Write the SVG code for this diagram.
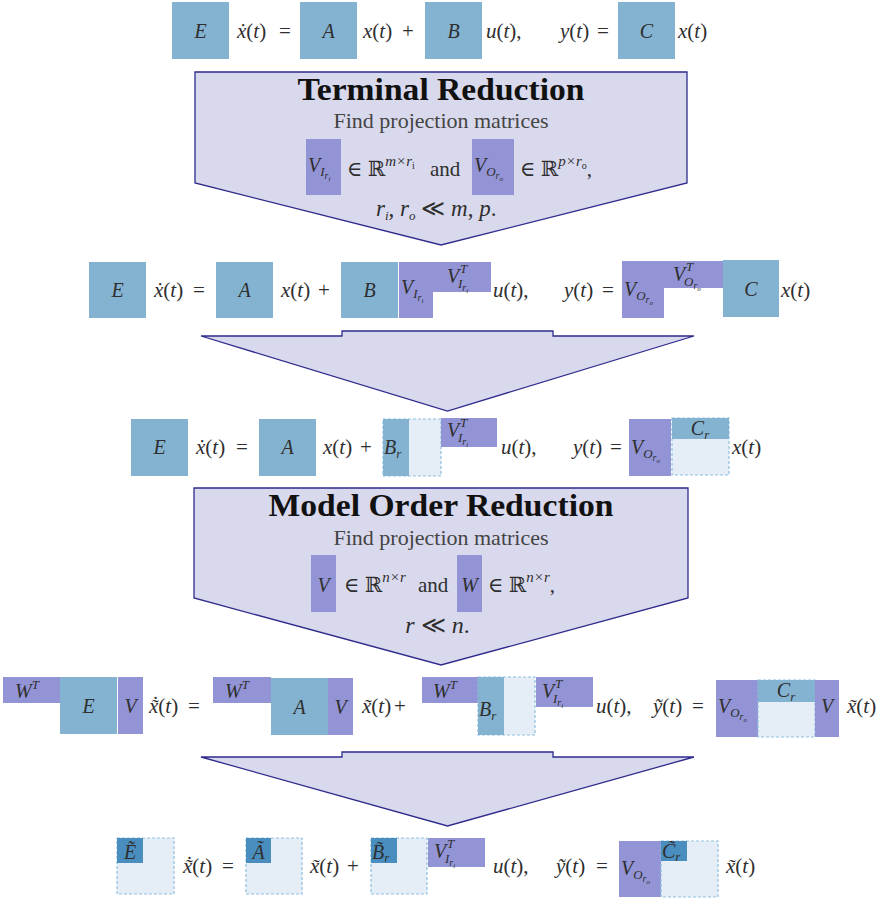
<svg xmlns="http://www.w3.org/2000/svg" width="887" height="899" viewBox="0 0 887 899">
<defs>
<style>
.f{font-family:"Liberation Serif","DejaVu Serif",serif;fill:#2e2e2e}
.eq{font-size:21px}
.lb{font-size:20px;font-style:italic}
.it{font-style:italic}
.up{font-style:normal}
.sub{font-size:13px;font-style:italic}
.sup{font-size:15px;font-style:italic}
.ss{font-size:10px}
.sss{font-size:7px}
.mid{text-anchor:middle}
.title{font-size:31px;font-weight:bold;fill:#111}
.find{font-size:22px;fill:#444}
.blue{fill:#84b3d2}
.pur{fill:#9394d5}
.dash{fill:#e5eef6;stroke:#8fc0e0;stroke-width:1.2;stroke-dasharray:3 2}
.dark{fill:#4a8ebf}
.blk{fill:#d9d9ed;stroke:#2e2b8c;stroke-width:1.3;stroke-linejoin:miter}
</style>
</defs>
<rect width="887" height="899" fill="#ffffff"/>

<!-- Row 1: original system -->
<g id="eq-original">
<rect class="blue" x="172" y="2" width="57" height="57"/>
<text class="f lb mid" x="200.5" y="38">E</text>
<text class="f eq" x="237" y="38"><tspan class="it">ẋ</tspan>(<tspan class="it">t</tspan>)</text>
<text class="f eq" x="279" y="38">=</text>
<rect class="blue" x="300" y="2" width="57" height="57"/>
<text class="f lb mid" x="328.5" y="38">A</text>
<text class="f eq" x="363" y="38"><tspan class="it">x</tspan>(<tspan class="it">t</tspan>)</text>
<text class="f eq" x="402" y="38">+</text>
<rect class="blue" x="425" y="2" width="57" height="57"/>
<text class="f lb mid" x="453.5" y="38">B</text>
<text class="f eq" x="486" y="38"><tspan class="it">u</tspan>(<tspan class="it">t</tspan>),</text>
<text class="f eq" x="560" y="38"><tspan class="it">y</tspan>(<tspan class="it">t</tspan>)</text>
<text class="f eq" x="597" y="38">=</text>
<rect class="blue" x="618" y="2" width="57" height="57"/>
<text class="f lb mid" x="646.5" y="38">C</text>
<text class="f eq" x="678" y="38"><tspan class="it">x</tspan>(<tspan class="it">t</tspan>)</text>
</g>

<!-- Terminal Reduction block -->
<g id="terminal-reduction">
<polygon class="blk" points="195,72 687,72 687,183 441,245 195,183"/>
<text class="f title mid" x="441" y="100" textLength="287" lengthAdjust="spacingAndGlyphs">Terminal Reduction</text>
<text class="f find mid" x="441" y="128">Find projection matrices</text>
<rect class="pur" x="306" y="139" width="35" height="56"/>
<text class="f lb" x="308" y="172">V<tspan class="sub" dy="4">I</tspan><tspan class="ss" dy="3">r</tspan><tspan class="sss" dy="2">i</tspan></text>
<text class="f eq" x="347" y="176">∈ ℝ<tspan class="sup" dy="-10">m</tspan><tspan class="sup up">×</tspan><tspan class="sup">r</tspan><tspan class="ss" dy="3">i</tspan></text>
<text class="f eq" x="430" y="176">and</text>
<rect class="pur" x="472" y="139" width="42" height="56"/>
<text class="f lb" x="474" y="172">V<tspan class="sub" dy="4">O</tspan><tspan class="ss" dy="3">r</tspan><tspan class="sss" dy="2">o</tspan></text>
<text class="f eq" x="520" y="176">∈ ℝ<tspan class="sup" dy="-10">p</tspan><tspan class="sup up">×</tspan><tspan class="sup">r</tspan><tspan class="ss" dy="3">o</tspan><tspan dy="7">,</tspan></text>
<text class="f" font-size="23" x="376" y="216"><tspan class="it">r</tspan><tspan class="sub" dy="4">i</tspan><tspan dy="-4">, </tspan><tspan class="it">r</tspan><tspan class="sub" dy="4">o</tspan><tspan dy="-4"> ≪ </tspan><tspan class="it">m</tspan>, <tspan class="it">p</tspan>.</text>
</g>

<!-- Row 2: with terminal projections -->
<g id="eq-terminal">
<rect class="blue" x="89" y="262" width="57" height="56"/>
<text class="f lb mid" x="117.5" y="297">E</text>
<text class="f eq" x="154" y="297"><tspan class="it">ẋ</tspan>(<tspan class="it">t</tspan>)</text>
<text class="f eq" x="193" y="297">=</text>
<rect class="blue" x="216" y="262" width="57" height="56"/>
<text class="f lb mid" x="244.5" y="297">A</text>
<text class="f eq" x="281" y="297"><tspan class="it">x</tspan>(<tspan class="it">t</tspan>)</text>
<text class="f eq" x="318" y="297">+</text>
<rect class="blue" x="341" y="262" width="57" height="56"/>
<text class="f lb mid" x="369.5" y="297">B</text>
<rect class="pur" x="399" y="262" width="34" height="56"/>
<rect class="pur" x="433" y="262" width="58" height="30"/>
<text class="f lb" x="401" y="294">V<tspan class="sub" dy="4">I</tspan><tspan class="ss" dy="3">r</tspan><tspan class="sss" dy="2">i</tspan></text>
<text class="f lb" x="447" y="283">V<tspan class="sub" x="460" y="273">T</tspan><tspan class="sub" x="458" y="288">I</tspan><tspan class="ss" dy="3">r</tspan><tspan class="sss" dy="2">i</tspan></text>
<text class="f eq" x="493" y="297"><tspan class="it">u</tspan>(<tspan class="it">t</tspan>),</text>
<text class="f eq" x="564" y="297"><tspan class="it">y</tspan>(<tspan class="it">t</tspan>)</text>
<text class="f eq" x="602" y="297">=</text>
<rect class="pur" x="622" y="261" width="42" height="57"/>
<rect class="pur" x="664" y="261" width="59" height="27"/>
<text class="f lb" x="624" y="296">V<tspan class="sub" dy="4">O</tspan><tspan class="ss" dy="3">r</tspan><tspan class="sss" dy="2">o</tspan></text>
<text class="f lb" x="673" y="281">V<tspan class="sub" x="686" y="271">T</tspan><tspan class="sub" x="684" y="286">O</tspan><tspan class="ss" dy="3">r</tspan><tspan class="sss" dy="2">o</tspan></text>
<rect class="blue" x="723" y="260" width="56" height="57"/>
<text class="f lb mid" x="751" y="296">C</text>
<text class="f eq" x="781" y="297"><tspan class="it">x</tspan>(<tspan class="it">t</tspan>)</text>
</g>

<!-- Connectors -->
<g id="connectors">
<polygon id="arrow-terminal-to-reduced" class="blk" points="201,336 342,336 342,331 553,331 553,336 694,336 447.5,411"/>
<polygon id="arrow-mor-to-final" class="blk" points="201,757 342,757 342,752 553,752 553,757 694,757 447.5,826"/>
</g>

<!-- Row 3: reduced terminals -->
<g id="eq-reduced-terminals">
<rect class="blue" x="131" y="419" width="57" height="57"/>
<text class="f lb mid" x="159.5" y="454">E</text>
<text class="f eq" x="196" y="454"><tspan class="it">ẋ</tspan>(<tspan class="it">t</tspan>)</text>
<text class="f eq" x="236" y="454">=</text>
<rect class="blue" x="259" y="419" width="57" height="57"/>
<text class="f lb mid" x="287.5" y="454">A</text>
<text class="f eq" x="323" y="454"><tspan class="it">x</tspan>(<tspan class="it">t</tspan>)</text>
<text class="f eq" x="360" y="454">+</text>
<rect class="dash" x="383" y="419" width="58" height="57"/>
<rect class="blue" x="383" y="419" width="26" height="57"/>
<text class="f lb" x="384" y="454">B<tspan class="sub" dy="4">r</tspan></text>
<rect class="pur" x="441" y="418" width="56" height="29"/>
<text class="f lb" x="447" y="437">V<tspan class="sub" x="460" y="427">T</tspan><tspan class="sub" x="458" y="442">I</tspan><tspan class="ss" dy="3">r</tspan><tspan class="sss" dy="2">i</tspan></text>
<text class="f eq" x="501" y="454"><tspan class="it">u</tspan>(<tspan class="it">t</tspan>),</text>
<text class="f eq" x="573" y="454"><tspan class="it">y</tspan>(<tspan class="it">t</tspan>)</text>
<text class="f eq" x="610" y="454">=</text>
<rect class="pur" x="629" y="419" width="42" height="57"/>
<text class="f lb" x="631" y="454">V<tspan class="sub" dy="4">O</tspan><tspan class="ss" dy="3">r</tspan><tspan class="sss" dy="2">o</tspan></text>
<rect class="dash" x="672" y="418" width="57" height="57"/>
<rect class="blue" x="672" y="418" width="57" height="21"/>
<text class="f lb mid" x="700" y="435">C<tspan class="sub" dy="4">r</tspan></text>
<text class="f eq" x="732" y="454"><tspan class="it">x</tspan>(<tspan class="it">t</tspan>)</text>
</g>

<!-- Model Order Reduction block -->
<g id="model-order-reduction">
<polygon class="blk" points="194,488 688,488 688,598 441,665 194,598"/>
<text class="f title mid" x="441" y="516" textLength="345" lengthAdjust="spacingAndGlyphs">Model Order Reduction</text>
<text class="f find mid" x="441" y="545">Find projection matrices</text>
<rect class="pur" x="311" y="555" width="25" height="57"/>
<text class="f lb mid" x="323.5" y="592">V</text>
<text class="f eq" x="344" y="592">∈ ℝ<tspan class="sup" dy="-10">n</tspan><tspan class="sup up">×</tspan><tspan class="sup">r</tspan></text>
<text class="f eq" x="418" y="592">and</text>
<rect class="pur" x="457" y="555" width="25" height="57"/>
<text class="f lb mid" x="469.5" y="592">W</text>
<text class="f eq" x="488" y="592">∈ ℝ<tspan class="sup" dy="-10">n</tspan><tspan class="sup up">×</tspan><tspan class="sup">r</tspan><tspan dy="10">,</tspan></text>
<text class="f mid" font-size="24" x="437.5" y="633"><tspan class="it">r</tspan> ≪ <tspan class="it">n</tspan>.</text>
</g>

<!-- Row 5: projected system -->
<g id="eq-projected">
<rect class="pur" x="3" y="677" width="57" height="26"/>
<text class="f lb" x="15" y="698">W<tspan class="sub" dy="-9">T</tspan></text>
<rect class="blue" x="60" y="677" width="57" height="57"/>
<text class="f lb mid" x="88.5" y="713">E</text>
<rect class="pur" x="118" y="677" width="25" height="57"/>
<text class="f lb mid" x="130.5" y="713">V</text>
<text class="f eq" x="149" y="713"><tspan class="it">x̃</tspan>(<tspan class="it">t</tspan>)<tspan x="152" y="711">˙</tspan></text>
<text class="f eq" x="188" y="713">=</text>
<rect class="pur" x="213" y="677" width="58" height="26"/>
<text class="f lb" x="225" y="698">W<tspan class="sub" dy="-9">T</tspan></text>
<rect class="blue" x="271" y="678" width="57" height="57"/>
<text class="f lb mid" x="299.5" y="714">A</text>
<rect class="pur" x="328" y="678" width="25" height="57"/>
<text class="f lb mid" x="340.5" y="714">V</text>
<text class="f eq" x="362" y="713"><tspan class="it">x̃</tspan>(<tspan class="it">t</tspan>)</text>
<text class="f eq" x="394" y="713">+</text>
<rect class="pur" x="422" y="677" width="56" height="26"/>
<text class="f lb" x="433" y="698">W<tspan class="sub" dy="-9">T</tspan></text>
<rect class="dash" x="478" y="677" width="57" height="58"/>
<rect class="blue" x="478" y="677" width="26" height="58"/>
<text class="f lb" x="479" y="716">B<tspan class="sub" dy="4">r</tspan></text>
<rect class="pur" x="536" y="677" width="57" height="30"/>
<text class="f lb" x="542" y="698">V<tspan class="sub" x="555" y="688">T</tspan><tspan class="sub" x="553" y="703">I</tspan><tspan class="ss" dy="3">r</tspan><tspan class="sss" dy="2">i</tspan></text>
<text class="f eq" x="596" y="713"><tspan class="it">u</tspan>(<tspan class="it">t</tspan>),</text>
<text class="f eq" x="653" y="713"><tspan class="it">ỹ</tspan>(<tspan class="it">t</tspan>)</text>
<text class="f eq" x="692" y="713">=</text>
<rect class="pur" x="716" y="680" width="42" height="57"/>
<text class="f lb" x="718" y="713">V<tspan class="sub" dy="4">O</tspan><tspan class="ss" dy="3">r</tspan><tspan class="sss" dy="2">o</tspan></text>
<rect class="dash" x="758" y="680" width="57" height="57"/>
<rect class="blue" x="758" y="680" width="57" height="22"/>
<text class="f lb mid" x="786" y="697">C<tspan class="sub" dy="4">r</tspan></text>
<rect class="pur" x="815" y="680" width="24" height="57"/>
<text class="f lb mid" x="827" y="713">V</text>
<text class="f eq" x="847" y="713"><tspan class="it">x̃</tspan>(<tspan class="it">t</tspan>)</text>
</g>

<!-- Row 6: final reduced system -->
<g id="eq-final">
<rect class="dash" x="117" y="838" width="57" height="56"/>
<rect class="dark" x="117" y="838" width="26" height="25"/>
<text class="f lb mid" x="130" y="859">Ẽ</text>
<text class="f eq" x="183" y="873"><tspan class="it">x̃</tspan>(<tspan class="it">t</tspan>)<tspan x="186" y="871">˙</tspan></text>
<text class="f eq" x="222" y="873">=</text>
<rect class="dash" x="246" y="838" width="56" height="56"/>
<rect class="dark" x="246" y="838" width="25" height="25"/>
<text class="f lb mid" x="258.5" y="859">Ã</text>
<text class="f eq" x="310" y="873"><tspan class="it">x̃</tspan>(<tspan class="it">t</tspan>)</text>
<text class="f eq" x="347" y="873">+</text>
<rect class="dash" x="371" y="838" width="56" height="56"/>
<rect class="dark" x="371" y="838" width="26" height="25"/>
<text class="f lb" x="372" y="859">B̃<tspan class="sub" dy="3">r</tspan></text>
<rect class="pur" x="428" y="838" width="57" height="29"/>
<text class="f lb" x="434" y="858">V<tspan class="sub" x="447" y="848">T</tspan><tspan class="sub" x="445" y="863">I</tspan><tspan class="ss" dy="3">r</tspan><tspan class="sss" dy="2">i</tspan></text>
<text class="f eq" x="493" y="873"><tspan class="it">u</tspan>(<tspan class="it">t</tspan>),</text>
<text class="f eq" x="556" y="873"><tspan class="it">ỹ</tspan>(<tspan class="it">t</tspan>)</text>
<text class="f eq" x="596" y="873">=</text>
<rect class="pur" x="619" y="841" width="42" height="56"/>
<text class="f lb" x="621" y="875">V<tspan class="sub" dy="4">O</tspan><tspan class="ss" dy="3">r</tspan><tspan class="sss" dy="2">o</tspan></text>
<rect class="dash" x="661" y="841" width="57" height="56"/>
<rect class="dark" x="661" y="841" width="26" height="20"/>
<text class="f lb" x="662" y="858">C̃<tspan class="sub" dy="3">r</tspan></text>
<text class="f eq" x="726" y="873"><tspan class="it">x̃</tspan>(<tspan class="it">t</tspan>)</text>
</g>
</svg>
